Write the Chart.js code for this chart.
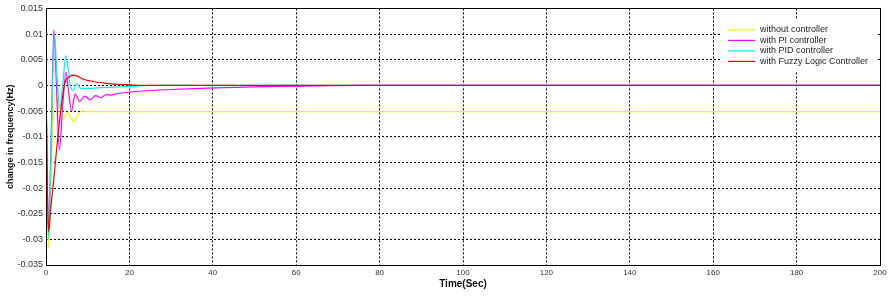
<!DOCTYPE html>
<html>
<head>
<meta charset="utf-8">
<script src="https://cdn.jsdelivr.net/npm/chart.js@4"></script>
<style>
  body { margin: 0; background: #fff; }
</style>
</head>
<body>
<canvas id="freqChart" width="894" height="306"></canvas>
<script>
// series (time in sec, change in frequency in Hz)
var noCtrlTime = [0, 0.25, 0.6, 1.1, 1.6, 2.2, 2.9, 3.6, 4.4, 5.2, 6.0, 6.8, 7.6, 8.6, 10, 200];
var noCtrlFreq = [0, -0.020, -0.0317, -0.021, -0.009, -0.0012, -0.004, -0.0066, -0.0062, -0.0052, -0.0064, -0.0070, -0.0058, -0.0050, -0.0051, -0.0051];

var piTime = [0, 0.6, 1.3, 1.9, 2.5, 3.2, 4.0, 4.8, 5.4, 6.1, 7.0, 8.1, 9.3, 10.6, 11.9, 13.2, 14.4, 15.6, 17, 20, 25, 30, 37, 45, 55, 65, 75, 200];
var piFreq = [0, -0.0290, -0.008, 0.0108, 0.000, -0.0126, -0.004, 0.0026, -0.001, -0.0050, -0.0017, -0.0031, -0.0021, -0.0028, -0.0020, -0.0024, -0.0018, -0.0019, -0.0016, -0.0013, -0.0010, -0.0008, -0.0006, -0.0004, -0.0002, -0.0001, 0, 0];

var pidTime = [0, 0.6, 1.3, 2.0, 2.7, 3.3, 4.0, 4.8, 5.8, 6.6, 7.3, 8.3, 10, 14, 20, 25, 200];
var pidFreq = [0, -0.0300, -0.010, 0.0100, 0.001, -0.0045, 0.000, 0.0058, 0.0000, -0.0010, 0.0004, -0.0006, -0.0006, -0.0004, -0.0002, 0, 0];

var fuzzyTime = [0, 0.25, 0.6, 1.2, 1.9, 2.6, 3.5, 4.5, 5.5, 6.5, 7.5, 9, 11, 14.5, 17, 20, 23, 200];
var fuzzyFreq = [0, -0.015, -0.0285, -0.0235, -0.018, -0.012, -0.0052, 0.0004, 0.0016, 0.0020, 0.0018, 0.0012, 0.0008, 0.0004, 0.0002, 0.0001, 0, 0];

var seriesLabels = ['without controller', 'with PI controller', 'with PID controller', 'with Fuzzy Logic Controller'];
var seriesColors = ['#f5f500', '#ff00ff', '#00f0f0', '#f00000'];

var xTicks = [0, 20, 40, 60, 80, 100, 120, 140, 160, 180, 200];
var yTicks = [-0.035, -0.03, -0.025, -0.02, -0.015, -0.01, -0.005, 0, 0.005, 0.01, 0.015];

function toPoints(times, values) {
    return times.map(function(t, i) { return { x: t, y: values[i] }; });
}

var allTimes = [noCtrlTime, piTime, pidTime, fuzzyTime];
var allFreqs = [noCtrlFreq, piFreq, pidFreq, fuzzyFreq];

var datasets = seriesLabels.map(function(label, i) {
    return {
        label: label,
        data: toPoints(allTimes[i], allFreqs[i]),
        borderColor: seriesColors[i],
        borderWidth: 1.2,
        pointRadius: 0,
        fill: false,
        cubicInterpolationMode: 'monotone',
        order: 4 - i
    };
});

// legend box inside the plot, top right, plus a black frame around the plot
var insideLegend = {
    id: 'insideLegend',
    afterDatasetsDraw: function(chart) {
        var ctx = chart.ctx;
        var area = chart.chartArea;
        var bx = area.right - 158, by = area.top + 11;
        ctx.save();
        ctx.fillStyle = '#fff';
        ctx.fillRect(bx, by, 154, 52);
        ctx.font = '9px "Liberation Sans", Arial, sans-serif';
        ctx.textBaseline = 'middle';
        chart.data.datasets.forEach(function(ds, i) {
            var y = by + 10.5 + i * 10.5;
            ctx.strokeStyle = ds.borderColor;
            ctx.lineWidth = 1.2;
            ctx.beginPath();
            ctx.moveTo(bx + 6, y);
            ctx.lineTo(bx + 33, y);
            ctx.stroke();
            ctx.fillStyle = '#222';
            ctx.fillText(ds.label, bx + 38, y);
        });
        ctx.strokeStyle = '#000';
        ctx.lineWidth = 1;
        ctx.strokeRect(Math.round(area.left) + 0.5, Math.round(area.top) + 0.5,
            Math.round(area.right - area.left), Math.round(area.bottom - area.top));
        ctx.restore();
    }
};

Chart.defaults.font.family = '"Liberation Sans", Arial, sans-serif';

var ctx = document.getElementById('freqChart').getContext('2d');
var chart = new Chart(ctx, {
    type: 'line',
    data: { datasets: datasets },
    options: {
        responsive: false,
        animation: false,
        devicePixelRatio: 1,
        layout: { padding: { top: 5, right: 14, left: 0, bottom: 0 } },
        plugins: {
            legend: { display: false },
            tooltip: { enabled: false }
        },
        scales: {
            x: {
                type: 'linear',
                min: 0,
                max: 200,
                afterBuildTicks: function(scale) {
                    scale.ticks = xTicks.map(function(v) { return { value: v }; });
                },
                afterFit: function(scale) { scale.height = 41; },
                grid: { color: '#000', lineWidth: 1, drawTicks: false },
                border: { display: false, dash: [2, 2] },
                ticks: { padding: 3, color: '#333', font: { size: 8 }, maxRotation: 0 },
                title: {
                    display: true,
                    text: 'Time(Sec)',
                    color: '#111',
                    font: { size: 10, weight: 'bold' },
                    padding: { top: 0, bottom: 16 }
                }
            },
            y: {
                min: -0.035,
                max: 0.015,
                afterBuildTicks: function(scale) {
                    scale.ticks = yTicks.map(function(v) { return { value: v }; });
                },
                afterFit: function(scale) { scale.width = 46; },
                grid: { color: '#000', lineWidth: 1, drawTicks: false },
                border: { display: false, dash: [2, 2] },
                ticks: {
                    padding: 3,
                    color: '#333',
                    font: { size: 9 },
                    callback: function(value) { return String(parseFloat(value.toFixed(4))); }
                },
                title: {
                    display: true,
                    text: 'change in frequency(Hz)',
                    color: '#111',
                    font: { size: 9, weight: 'bold' },
                    padding: { top: 5, bottom: 0 }
                }
            }
        }
    },
    plugins: [insideLegend]
});
</script>
</body>
</html>
